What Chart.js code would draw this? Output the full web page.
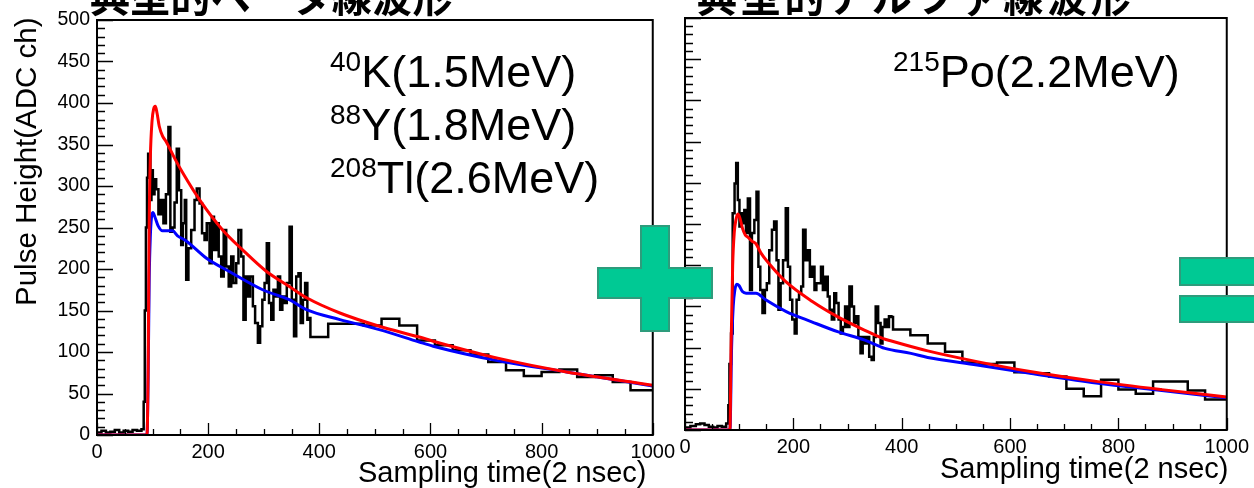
<!DOCTYPE html>
<html><head><meta charset="utf-8">
<script src="https://cdn.jsdelivr.net/npm/chart.js@4.4.1/dist/chart.umd.min.js"></script>
<style>
html,body{margin:0;padding:0;background:#fff;}
body{width:1254px;height:488px;position:relative;overflow:hidden;font-family:"Liberation Sans",Arial,sans-serif;color:#000;}
canvas{position:absolute;top:0;}
#c1{left:0;z-index:1;}
#c2{left:640px;z-index:1;}
.t{position:absolute;white-space:nowrap;z-index:2;}
.ttl{font-family:"Noto Sans CJK JP",sans-serif;font-weight:bold;font-size:40px;line-height:40px;top:-25px;}
.ann{font-size:45px;line-height:53px;}
.ann span{font-size:28px;line-height:0;vertical-align:16px;}
.xt{font-size:29px;line-height:29px;}
.yt{font-size:29.5px;line-height:30px;transform-origin:0 0;transform:rotate(-90deg);}
svg{position:absolute;left:0;top:0;z-index:3;}
</style></head>
<body>
<div class="t ttl" style="left:90px;letter-spacing:0.3px;">典型的ベータ線波形</div>
<div class="t ttl" style="left:697px;letter-spacing:3.8px;">典型的アルファ線波形</div>
<canvas id="c1" width="680" height="488"></canvas>
<canvas id="c2" width="614" height="488"></canvas>
<div class="t ann" style="left:330px;top:45px;"><span>40</span>K(1.5MeV)<br><span>88</span>Y(1.8MeV)<br><span>208</span>Tl(2.6MeV)</div>
<div class="t ann" style="left:893px;top:45px;"><span>215</span>Po(2.2MeV)</div>
<div class="t xt" style="left:358px;top:458px;">Sampling time(2 nsec)</div>
<div class="t xt" style="left:940px;top:454px;">Sampling time(2 nsec)</div>
<div class="t yt" style="left:11px;top:306px;">Pulse Height(ADC ch)</div>
<svg width="1254" height="488">
  <polygon points="641,226 669,226 669,268 712,268 712,298 669,298 669,331 641,331 641,298 598,298 598,268 641,268" fill="#00C994" stroke="#2E9C7C" stroke-width="2"/>
  <rect x="1180" y="258" width="80" height="27" fill="#00C994" stroke="#2E9C7C" stroke-width="2"/>
  <rect x="1180" y="296" width="80" height="26" fill="#00C994" stroke="#2E9C7C" stroke-width="2"/>
</svg>
<script>
// ---- tick labels ----
const xTicks = [0, 200, 400, 600, 800, 1000];
const yTicks = [0, 50, 100, 150, 200, 250, 300, 350, 400, 450, 500];

// ---- beta panel (left) ----
const betaTime = [0, 8, 16, 24, 32, 40, 48, 56, 64, 72, 80, 84, 86, 88, 90, 92, 96, 98, 100.5, 103.5, 106.5, 110.5, 115, 119.5, 124, 128.5, 132, 136, 139.5, 143.5, 147.5, 151.5, 154.5, 158, 160.5, 164.5, 169.5, 175.5, 179.5, 184.5, 189, 193.5, 197.5, 202.5, 206.5, 210.5, 214.5, 219, 223.5, 228, 232.5, 237, 241.5, 245.5, 250.5, 254.5, 259.5, 263.5, 267.5, 271.5, 275.5, 280.5, 284.5, 289.5, 293.5, 297.5, 301.5, 305.5, 309.5, 313.5, 317.5, 321.5, 325.5, 329.5, 333.5, 337.5, 341.5, 346.5, 350.5, 354.5, 358.5, 362.5, 366.5, 370.5, 374.5, 378.5, 382, 384, 416, 448, 480, 512, 544, 576, 608, 640, 672, 704, 736, 768, 800, 832, 864, 896, 928, 960, 992, 1000];
const betaPulse = [4, 3, 5, 3, 4, 6, 3, 5, 4, 6, 5, 7, 40, 150, 250, 310, 339, 283, 319, 290, 308, 296, 266, 283, 255, 290, 371, 245, 250, 280, 345, 295, 229, 255, 283, 187, 225, 247, 283, 297, 279, 243, 235, 255, 207, 263, 223, 255, 215, 191, 247, 203, 179, 215, 183, 207, 247, 215, 139, 191, 167, 191, 155, 135, 111, 131, 163, 183, 231, 159, 139, 175, 167, 191, 151, 167, 159, 183, 251, 163, 119, 191, 195, 135, 163, 183, 139, 141, 118, 134, 134, 132, 140, 132, 114, 108, 102, 97, 88, 78, 71, 76, 79, 70, 72, 64, 54, 54];
const betaRedTime = [0, 90, 92, 94, 96, 99, 102, 105, 108, 112, 118, 124, 140, 155, 185, 226, 262, 305, 346, 378, 437, 508, 580, 605, 725, 845, 1000];
const betaRedPulse = [0, 0, 80, 260, 335, 378, 393, 396, 388, 372, 360, 354, 333, 315, 283, 247, 223, 197, 179, 165, 147, 131, 118, 113, 92, 76, 60];
const betaBlueTime = [0, 90, 92, 94, 96, 98, 100.5, 104, 110, 118, 126, 136, 145, 160, 197, 238, 298, 346, 377, 437, 508, 580, 605, 725, 845, 1000];
const betaBluePulse = [0, 0, 70, 190, 240, 262, 268, 263, 252, 246, 246, 246, 240, 234, 213, 197, 175, 163, 151, 139, 127, 112, 107, 89, 76, 59];

// ---- alpha panel (right) ----
const alphaTime = [0, 10, 20, 28, 36, 44, 52, 60, 68, 76, 80, 82, 85, 88, 91.5, 94.5, 97.5, 100.5, 103.5, 106.5, 109.5, 112.5, 116, 120, 123.5, 128, 132, 135.5, 139, 143, 147.5, 151, 155.5, 160.5, 164.5, 169, 172.5, 176.5, 181, 186, 190, 194, 198, 202.5, 206, 210.5, 214.5, 218, 222.5, 226.5, 230.5, 234.5, 239, 242.5, 247, 251, 254.5, 259, 263.5, 267, 271, 275.5, 279, 283.5, 287.5, 291.5, 295.5, 300, 303.5, 308, 312, 316, 320, 324, 328, 332, 336.5, 340, 344.5, 348.5, 352, 356.5, 361, 364.5, 368.5, 373, 376.5, 381, 384, 416, 448, 480, 512, 544, 576, 608, 640, 672, 704, 736, 768, 800, 832, 864, 896, 928, 960, 992, 1000];
const alphaPulse = [4, 3, 5, 7, 8, 6, 4, 3, 5, 4, 8, 30, 80, 117, 263, 299, 324, 279, 247, 263, 251, 267, 239, 281, 170, 239, 255, 289, 198, 170, 142, 170, 178, 218, 243, 253, 206, 146, 178, 206, 269, 198, 158, 134, 117, 158, 166, 174, 243, 206, 218, 186, 198, 170, 178, 178, 198, 170, 186, 162, 146, 134, 166, 154, 134, 117, 125, 150, 125, 174, 150, 130, 138, 113, 93, 113, 105, 113, 89, 85, 113, 150, 130, 105, 125, 134, 125, 138, 137, 122, 115, 105, 95, 82, 80, 82, 70, 69, 65, 50, 41, 61, 49, 44, 59, 59, 48, 37, 37];
const alphaRedTime = [0, 83, 85, 88, 91, 94, 97.5, 101, 106, 111, 116, 124, 131, 140, 155, 186, 235, 283, 332, 366, 381, 448, 539, 637, 759, 880, 1000];
const alphaRedPulse = [0, 0, 100, 200, 240, 255, 262, 258, 245, 237, 234, 229, 226, 215, 202, 180, 156, 137, 121, 111, 108, 96, 83, 71, 59, 49, 40];
const alphaBlueTime = [0, 83, 86, 89, 92, 95.7, 100, 106, 112.7, 122, 131, 149, 186, 235, 283, 332, 369, 417, 448, 539, 637, 759, 880, 1000];
const alphaBluePulse = [0, 0, 100, 150, 170, 177, 175, 168, 166, 166, 166, 158, 144, 131, 119, 109, 99, 93, 88, 79, 69, 57, 48, 39];

const FONT = '"Liberation Sans", Arial, sans-serif';
function pts(t, v) { return t.map((x, i) => ({ x: x, y: v[i] })); }

const rootFrame = {
  id: 'rootFrame',
  afterDatasetsDraw(chart) {
    const { ctx, chartArea: a, scales: { x, y } } = chart;
    ctx.save();
    ctx.strokeStyle = '#000';
    ctx.lineWidth = 1.3;
    ctx.beginPath();
    for (let v = y.min; v <= y.max; v += 10) {
      const py = Math.round(y.getPixelForValue(v)) + 0.5;
      const L = (v % 50 === 0) ? 16 : 8;
      ctx.moveTo(a.left, py); ctx.lineTo(a.left + L, py);
    }
    for (let u = x.min; u <= x.max; u += 50) {
      const px = Math.round(x.getPixelForValue(u)) + 0.5;
      const L = (u % 200 === 0) ? 12 : 6;
      ctx.moveTo(px, a.bottom); ctx.lineTo(px, a.bottom - L);
    }
    ctx.stroke();
    ctx.lineWidth = 2;
    ctx.strokeRect(a.left, a.top, a.right - a.left, a.bottom - a.top);
    ctx.restore();
  }
};

function build(id, c) {
  return new Chart(document.getElementById(id), {
    type: 'line',
    data: {
      datasets: [
        { data: pts(c.redT, c.redV), borderColor: '#ff0000', borderWidth: 3, cubicInterpolationMode: 'monotone', order: 1 },
        { data: pts(c.blueT, c.blueV), borderColor: '#0000ff', borderWidth: 3, cubicInterpolationMode: 'monotone', order: 2 },
        { data: pts(c.blackT, c.blackV), borderColor: '#000000', borderWidth: 2.5, stepped: 'after', order: 3 }
      ]
    },
    options: {
      responsive: false, animation: false, devicePixelRatio: 1, events: [],
      plugins: { legend: { display: false }, tooltip: { enabled: false } },
      elements: { point: { radius: 0 }, line: { fill: false } },
      layout: { autoPadding: false, padding: c.padding },
      scales: {
        x: {
          type: 'linear', min: 0, max: 1000,
          afterBuildTicks: s => { s.ticks = xTicks.map(v => ({ value: v })); },
          afterFit: s => { s.height = c.xh; },
          grid: { display: false, drawTicks: false }, border: { display: false },
          ticks: { color: '#000', font: { family: FONT, size: 20 }, padding: c.xpad, maxRotation: 0, autoSkip: false, callback: v => String(v) }
        },
        y: {
          type: 'linear', min: 0, max: 500,
          afterBuildTicks: s => { s.ticks = yTicks.map(v => ({ value: v })); },
          afterFit: s => { s.width = c.yw; },
          grid: { display: false, drawTicks: false }, border: { display: false },
          ticks: { display: c.showY, color: '#000', font: { family: FONT, size: 19.5 }, padding: 7, autoSkip: false, callback: v => String(v) }
        }
      }
    },
    plugins: [rootFrame]
  });
}

build('c1', {
  blackT: betaTime, blackV: betaPulse, redT: betaRedTime, redV: betaRedPulse, blueT: betaBlueTime, blueV: betaBluePulse,
  padding: { left: 0, top: 20, right: 27, bottom: 0 }, xh: 53, yw: 97, xpad: 5, showY: true
});
build('c2', {
  blackT: alphaTime, blackV: alphaPulse, redT: alphaRedTime, redV: alphaRedPulse, blueT: alphaBlueTime, blueV: alphaBluePulse,
  padding: { left: 0, top: 18, right: 22, bottom: 0 }, xh: 58, yw: 45, xpad: 5, showY: false
});
</script>
</body></html>
